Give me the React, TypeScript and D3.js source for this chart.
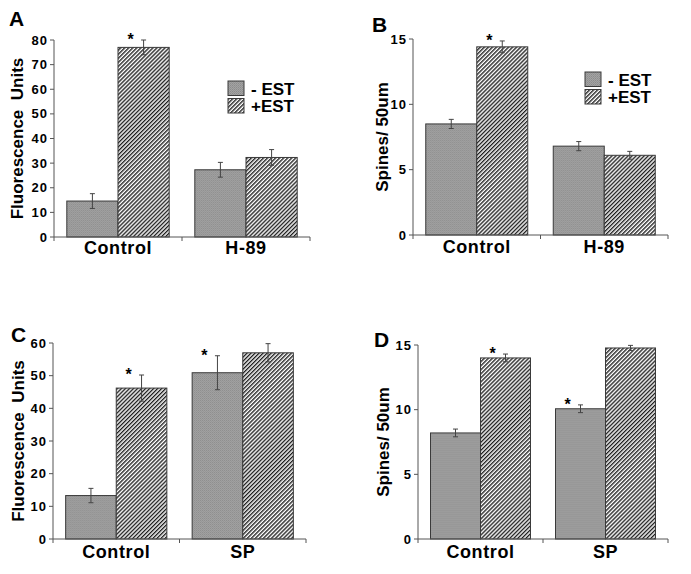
import * as d3 from 'd3';
import React from 'react';

const W = 691;
const H = 574;

const treatments = ['-EST', '+EST'];
const groupsAB = ['Control', 'H-89'];
const groupsCD = ['Control', 'SP'];

// values: [-EST, +EST] per group
const fluorA = [[14.6, 77.0], [27.3, 32.3]];
const fluorAErr = [[3.0, 3.0], [3.0, 3.2]];
const spinesB = [[8.5, 14.4], [6.8, 6.1]];
const spinesBErr = [[0.35, 0.45], [0.35, 0.3]];
const fluorC = [[13.3, 46.2], [50.9, 57.0]];
const fluorCErr = [[2.2, 4.0], [5.2, 2.8]];
const spinesD = [[8.2, 14.0], [10.07, 14.77]];
const spinesDErr = [[0.3, 0.3], [0.3, 0.2]];

// which bars carry a significance star: [group, treatment]
const starsA = [[0, 1]];
const starsB = [[0, 1]];
const starsC = [[0, 1], [1, 0]];
const starsD = [[0, 1], [1, 0]];

const ticksFluorA = [0, 10, 20, 30, 40, 50, 60, 70, 80];
const ticksFluorC = [0, 10, 20, 30, 40, 50, 60];
const ticksSpines = [0, 5, 10, 15];

const FONT = '"Liberation Sans", Arial, sans-serif';

interface PanelProps {
    letter: string;
    letterPos: [number, number];
    x0: number;
    x1: number;
    yBase: number;
    yTop: number;
    yMax: number;
    ticks: number[];
    groups: string[];
    values: number[][];
    errors: number[][];
    stars: number[][];
    yLabel: string;
    yLabelX: number;
    catBaseline: number;
    legend?: [number, number];
}

function Panel(p: PanelProps) {
    const x = d3.scaleBand<string>().domain(p.groups).range([p.x0, p.x1]).paddingInner(0.2).paddingOuter(0.1);
    const xs = d3.scaleBand<string>().domain(treatments).range([0, x.bandwidth()]);
    const y = d3.scaleLinear().domain([0, p.yMax]).range([p.yBase, p.yTop]);
    const step = x.step();
    const bounds = [p.x0, p.x0 + step, p.x1];

    return (
        <g fontFamily={FONT} fontWeight={700}>
            <text x={p.letterPos[0]} y={p.letterPos[1]} fontSize={21} fill="#000">{p.letter}</text>

            {p.groups.map((g, gi) => (
                <g key={g} transform={`translate(${x(g)},0)`}>
                    {treatments.map((t, ti) => {
                        const v = p.values[gi][ti];
                        const e = p.errors[gi][ti];
                        const bx = xs(t) ?? 0;
                        const cx = bx + xs.bandwidth() / 2;
                        return (
                            <g key={t}>
                                <rect x={bx} y={y(v)} width={xs.bandwidth()} height={p.yBase - y(v)}
                                    fill={ti === 0 ? 'url(#stipple)' : 'url(#hatch)'}
                                    stroke="#3a3a3a" strokeWidth={1} />
                                <line x1={cx} x2={cx} y1={y(v + e)} y2={y(v - e)} stroke="#444" strokeWidth={1} />
                                <line x1={cx - 2.5} x2={cx + 2.5} y1={y(v + e)} y2={y(v + e)} stroke="#444" strokeWidth={1} />
                                <line x1={cx - 2.5} x2={cx + 2.5} y1={y(v - e)} y2={y(v - e)} stroke="#444" strokeWidth={1} />
                            </g>
                        );
                    })}
                    <text x={x.bandwidth() / 2} y={p.catBaseline} textAnchor="middle" fontSize={18} letterSpacing={0.6}>
                        {g}
                    </text>
                </g>
            ))}

            {p.stars.map(([gi, ti]) => {
                const g = p.groups[gi];
                const t = treatments[ti];
                const cx = (x(g) ?? 0) + (xs(t) ?? 0) + xs.bandwidth() / 2 - 13;
                const top = y(p.values[gi][ti] + p.errors[gi][ti]);
                return (
                    <text key={`${gi}-${ti}`} x={cx} y={top + 5} textAnchor="middle" fontSize={16}>*</text>
                );
            })}

            {/* y axis */}
            <line x1={p.x0} x2={p.x0} y1={p.yBase} y2={y(p.yMax)} stroke="#555" strokeWidth={1} />
            {p.ticks.map((t) => (
                <g key={t}>
                    <line x1={p.x0 - 4} x2={p.x0} y1={y(t)} y2={y(t)} stroke="#555" strokeWidth={1} />
                    <text x={p.x0 - 6} y={y(t)} dy="0.35em" textAnchor="end" fontSize={13} letterSpacing={1}>{t}</text>
                </g>
            ))}

            {/* x axis */}
            <line x1={p.x0} x2={p.x1} y1={p.yBase} y2={p.yBase} stroke="#555" strokeWidth={1} />
            {bounds.map((b) => (
                <line key={b} x1={b} x2={b} y1={p.yBase} y2={p.yBase + 4} stroke="#555" strokeWidth={1} />
            ))}

            <text transform={`translate(${p.yLabelX},${(p.yBase + y(p.yMax)) / 2}) rotate(-90)`}
                textAnchor="middle" dy="0.35em" fontSize={17} style={{ whiteSpace: 'pre' }}>
                {p.yLabel}
            </text>

            {p.legend && (
                <g transform={`translate(${p.legend[0]},${p.legend[1]})`}>
                    {treatments.map((t, i) => (
                        <g key={t} transform={`translate(0,${i * 17.5})`}>
                            <rect x={0} y={0} width={16} height={14.5}
                                fill={i === 0 ? 'url(#stipple)' : 'url(#hatch)'} stroke="#3a3a3a" strokeWidth={1} />
                            <text x={23} y={13.5} fontSize={17} style={{ whiteSpace: 'pre' }}>
                                {i === 0 ? '- EST' : '+EST'}
                            </text>
                        </g>
                    ))}
                </g>
            )}
        </g>
    );
}

export default function App() {
    return (
        <svg width={W} height={H} viewBox={`0 0 ${W} ${H}`}
            style={{ position: 'absolute', left: 0, top: 0, background: '#fff' }}>
            <defs>
                <pattern id="stipple" patternUnits="userSpaceOnUse" width={2} height={2}>
                    <rect width={2} height={2} fill="#a3a3a3" />
                    <rect width={1} height={1} fill="#8c8c8c" />
                    <rect x={1} y={1} width={1} height={1} fill="#959595" />
                </pattern>
                <pattern id="hatch" patternUnits="userSpaceOnUse" width={2.85} height={10}
                    patternTransform="rotate(45)">
                    <rect width={2.85} height={10} fill="#fff" />
                    <line x1={0.7} x2={0.7} y1={0} y2={10} stroke="#111" strokeWidth={1.3} />
                </pattern>
            </defs>
            <rect width={W} height={H} fill="#fff" />

            <Panel letter="A" letterPos={[9, 26]} x0={54} x1={310} yBase={237} yTop={40} yMax={80}
                ticks={ticksFluorA} groups={groupsAB} values={fluorA} errors={fluorAErr} stars={starsA}
                yLabel="Fluorescence  Units" yLabelX={17} catBaseline={254} legend={[228, 81]} />
            <Panel letter="B" letterPos={[372, 32]} x0={413} x1={668} yBase={235} yTop={39} yMax={15}
                ticks={ticksSpines} groups={groupsAB} values={spinesB} errors={spinesBErr} stars={starsB}
                yLabel="Spines/ 50um" yLabelX={382} catBaseline={253} legend={[585, 72]} />
            <Panel letter="C" letterPos={[11, 342]} x0={53} x1={306} yBase={539} yTop={343} yMax={60}
                ticks={ticksFluorC} groups={groupsCD} values={fluorC} errors={fluorCErr} stars={starsC}
                yLabel="Fluorescence  Units" yLabelX={18} catBaseline={558} />
            <Panel letter="D" letterPos={[374, 347]} x0={418} x1={668} yBase={539} yTop={345} yMax={15}
                ticks={ticksSpines} groups={groupsCD} values={spinesD} errors={spinesDErr} stars={starsD}
                yLabel="Spines/ 50um" yLabelX={383} catBaseline={558} />
        </svg>
    );
}
